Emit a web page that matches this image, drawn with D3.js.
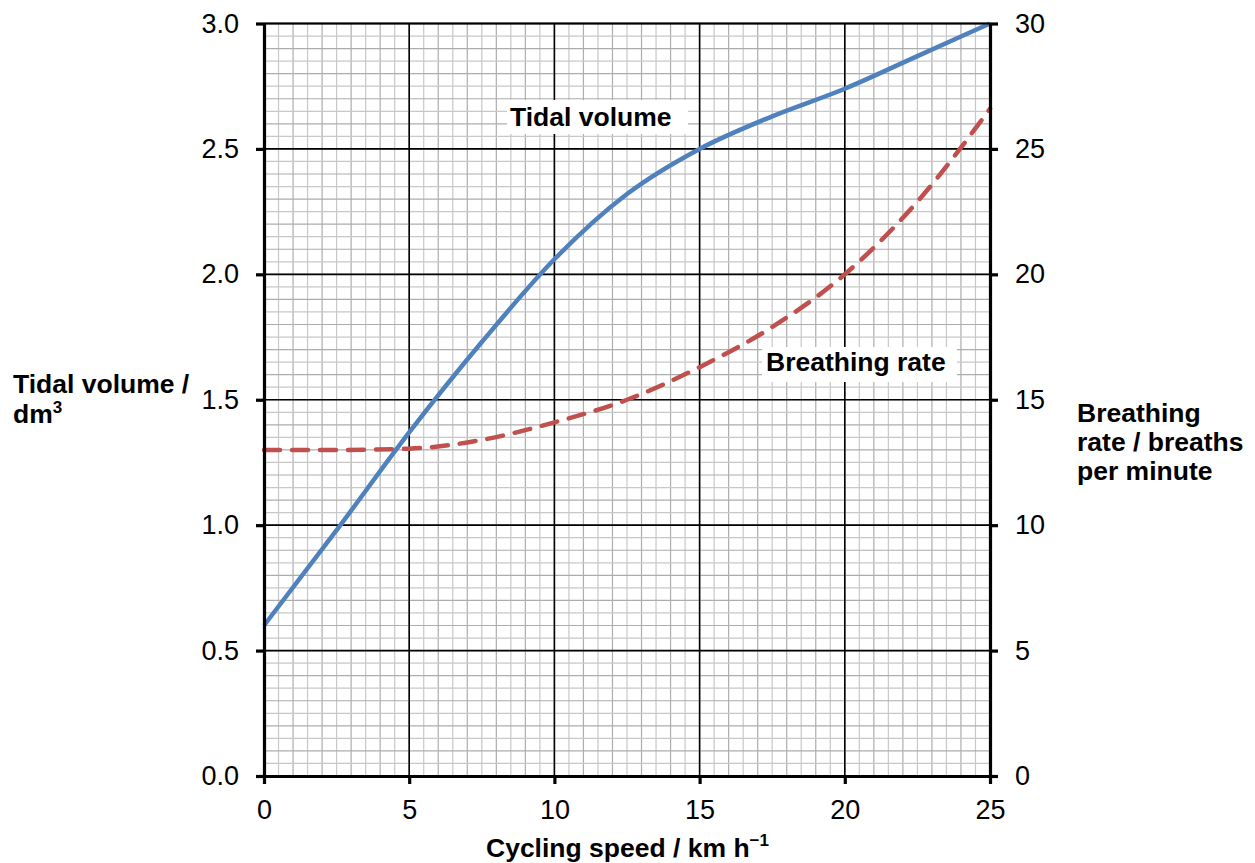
<!DOCTYPE html>
<html>
<head>
<meta charset="utf-8">
<script src="https://cdn.jsdelivr.net/npm/d3@7"></script>
<style>
  body { margin: 0; background: #fff; }
  text { font-family: "Liberation Sans", Arial, sans-serif; fill: #000; }
  .tick text { font-size: 27px; }
  .title { font-size: 26.5px; font-weight: bold; }
</style>
</head>
<body>
<div class="chart"></div>
<script>
// cycling speed (km/h)
var speeds = [0, 2.5, 5, 7.5, 10, 12.5, 15, 17.5, 20, 22.5, 25];
// tidal volume (dm3) - left axis
var tidalVolume = [0.60, 0.98, 1.37, 1.73, 2.06, 2.32, 2.50, 2.63, 2.74, 2.87, 3.00];
// breathing rate (breaths per minute) - right axis
var breathingRate = [13.0, 13.0, 13.05, 13.4, 14.1, 15.0, 16.3, 17.9, 20.0, 22.9, 26.6];

var xTicks = [0, 5, 10, 15, 20, 25];
var leftTicks = [0, 0.5, 1.0, 1.5, 2.0, 2.5, 3.0];
var rightTicks = [0, 5, 10, 15, 20, 25, 30];

var svgWidth = 1255;
var svgHeight = 863;

var plot = { left: 264, right: 990, top: 23.5, bottom: 776 };

var svg = d3.select(".chart")
  .append("svg")
  .attr("width", svgWidth)
  .attr("height", svgHeight);

var x = d3.scaleLinear().domain([0, 25]).range([plot.left, plot.right]);
var yLeft = d3.scaleLinear().domain([0, 3]).range([plot.bottom, plot.top]);
var yRight = d3.scaleLinear().domain([0, 30]).range([plot.bottom, plot.top]);

// minor grid
var grid = svg.append("g");
var minorX = d3.range(0, 25.001, 0.5);
var minorY = d3.range(0, 3.001, 0.05);

grid.selectAll(".vx")
  .data(minorX)
  .enter()
  .append("line")
  .attr("x1", d => x(d)).attr("x2", d => x(d))
  .attr("y1", plot.top).attr("y2", plot.bottom)
  .attr("stroke", d => Math.abs(d - Math.round(d)) < 1e-6 ? "#adadad" : "#c8c8c8")
  .attr("stroke-width", 1.2);

grid.selectAll(".hy")
  .data(minorY)
  .enter()
  .append("line")
  .attr("x1", plot.left).attr("x2", plot.right)
  .attr("y1", d => yLeft(d)).attr("y2", d => yLeft(d))
  .attr("stroke", d => Math.abs(d * 10 - Math.round(d * 10)) < 1e-6 ? "#adadad" : "#c8c8c8")
  .attr("stroke-width", 1.2);

// major grid
grid.selectAll(".mx")
  .data(xTicks)
  .enter()
  .append("line")
  .attr("x1", d => x(d)).attr("x2", d => x(d))
  .attr("y1", plot.top).attr("y2", plot.bottom)
  .attr("stroke", "#000")
  .attr("stroke-width", 1.6);

grid.selectAll(".my")
  .data(leftTicks)
  .enter()
  .append("line")
  .attr("x1", plot.left).attr("x2", plot.right)
  .attr("y1", d => yLeft(d)).attr("y2", d => yLeft(d))
  .attr("stroke", "#000")
  .attr("stroke-width", 1.6);

// lines
var tidalLine = d3.line()
  .x((d, i) => x(speeds[i]))
  .y(d => yLeft(d))
  .curve(d3.curveMonotoneX);

var rateLine = d3.line()
  .x((d, i) => x(speeds[i]))
  .y(d => yRight(d))
  .curve(d3.curveMonotoneX);

svg.append("path")
  .datum(breathingRate)
  .attr("d", rateLine)
  .attr("fill", "none")
  .attr("stroke", "#C0504D")
  .attr("stroke-width", 4.5)
  .attr("stroke-linecap", "round")
  .attr("stroke-dasharray", "16,12");

svg.append("path")
  .datum(tidalVolume)
  .attr("d", tidalLine)
  .attr("fill", "none")
  .attr("stroke", "#4F81BD")
  .attr("stroke-width", 4.5);

// series labels with white boxes
function boxLabel(txt, tx, ty, bx, by, bw, bh) {
  svg.append("rect")
    .attr("x", bx).attr("y", by)
    .attr("width", bw).attr("height", bh)
    .attr("fill", "#fff");
  svg.append("text")
    .attr("class", "title")
    .attr("x", tx).attr("y", ty)
    .text(txt);
}
boxLabel("Tidal volume", 510, 126, 507, 100, 181, 34);
boxLabel("Breathing rate", 766, 371, 762, 347, 195, 35);

// axes
var leftAxis = d3.axisLeft(yLeft)
  .tickValues(leftTicks)
  .tickFormat(d3.format(".1f"))
  .tickSizeInner(8)
  .tickSizeOuter(0)
  .tickPadding(17);

var rightAxis = d3.axisRight(yRight)
  .tickValues(rightTicks)
  .tickFormat(d3.format("d"))
  .tickSizeInner(8)
  .tickSizeOuter(0)
  .tickPadding(17);

var bottomAxis = d3.axisBottom(x)
  .tickValues(xTicks)
  .tickFormat(d3.format("d"))
  .tickSizeInner(8)
  .tickSizeOuter(0)
  .tickPadding(16);

// top border
svg.append("line")
  .attr("x1", plot.left).attr("x2", plot.right)
  .attr("y1", plot.top).attr("y2", plot.top)
  .attr("stroke", "#000").attr("stroke-width", 2);

var gl = svg.append("g").attr("transform", `translate(${plot.left},0)`).call(leftAxis);
var gr = svg.append("g").attr("transform", `translate(${plot.right},0)`).call(rightAxis);
var gb = svg.append("g").attr("transform", `translate(0,${plot.bottom})`).call(bottomAxis);

[gl, gr, gb].forEach(function(g) {
  g.select(".domain").attr("stroke", "#000").attr("stroke-width", 3.2);
  g.selectAll(".tick line").attr("stroke", "#000").attr("stroke-width", 3.2);
  g.selectAll(".tick text").attr("fill", "#000").style("font-family", "'Liberation Sans', Arial, sans-serif");
});

// axis titles
var lt = svg.append("text").attr("class", "title").attr("x", 13).attr("y", 393);
lt.append("tspan").text("Tidal volume /");
var lt2 = svg.append("text").attr("class", "title").attr("x", 13).attr("y", 423);
lt2.append("tspan").text("dm");
lt2.append("tspan").attr("font-size", "17px").attr("dy", -10).text("3");

var rt = ["Breathing", "rate / breaths", "per minute"];
rt.forEach(function(t, i) {
  svg.append("text").attr("class", "title")
    .attr("x", 1077).attr("y", 422 + i * 29)
    .text(t);
});

var bt = svg.append("text").attr("class", "title")
  .attr("x", 486).attr("y", 857);
bt.append("tspan").text("Cycling speed / km h");
bt.append("tspan").attr("font-size", "17px").attr("dy", -11).text("\u22121");
</script>
</body>
</html>
